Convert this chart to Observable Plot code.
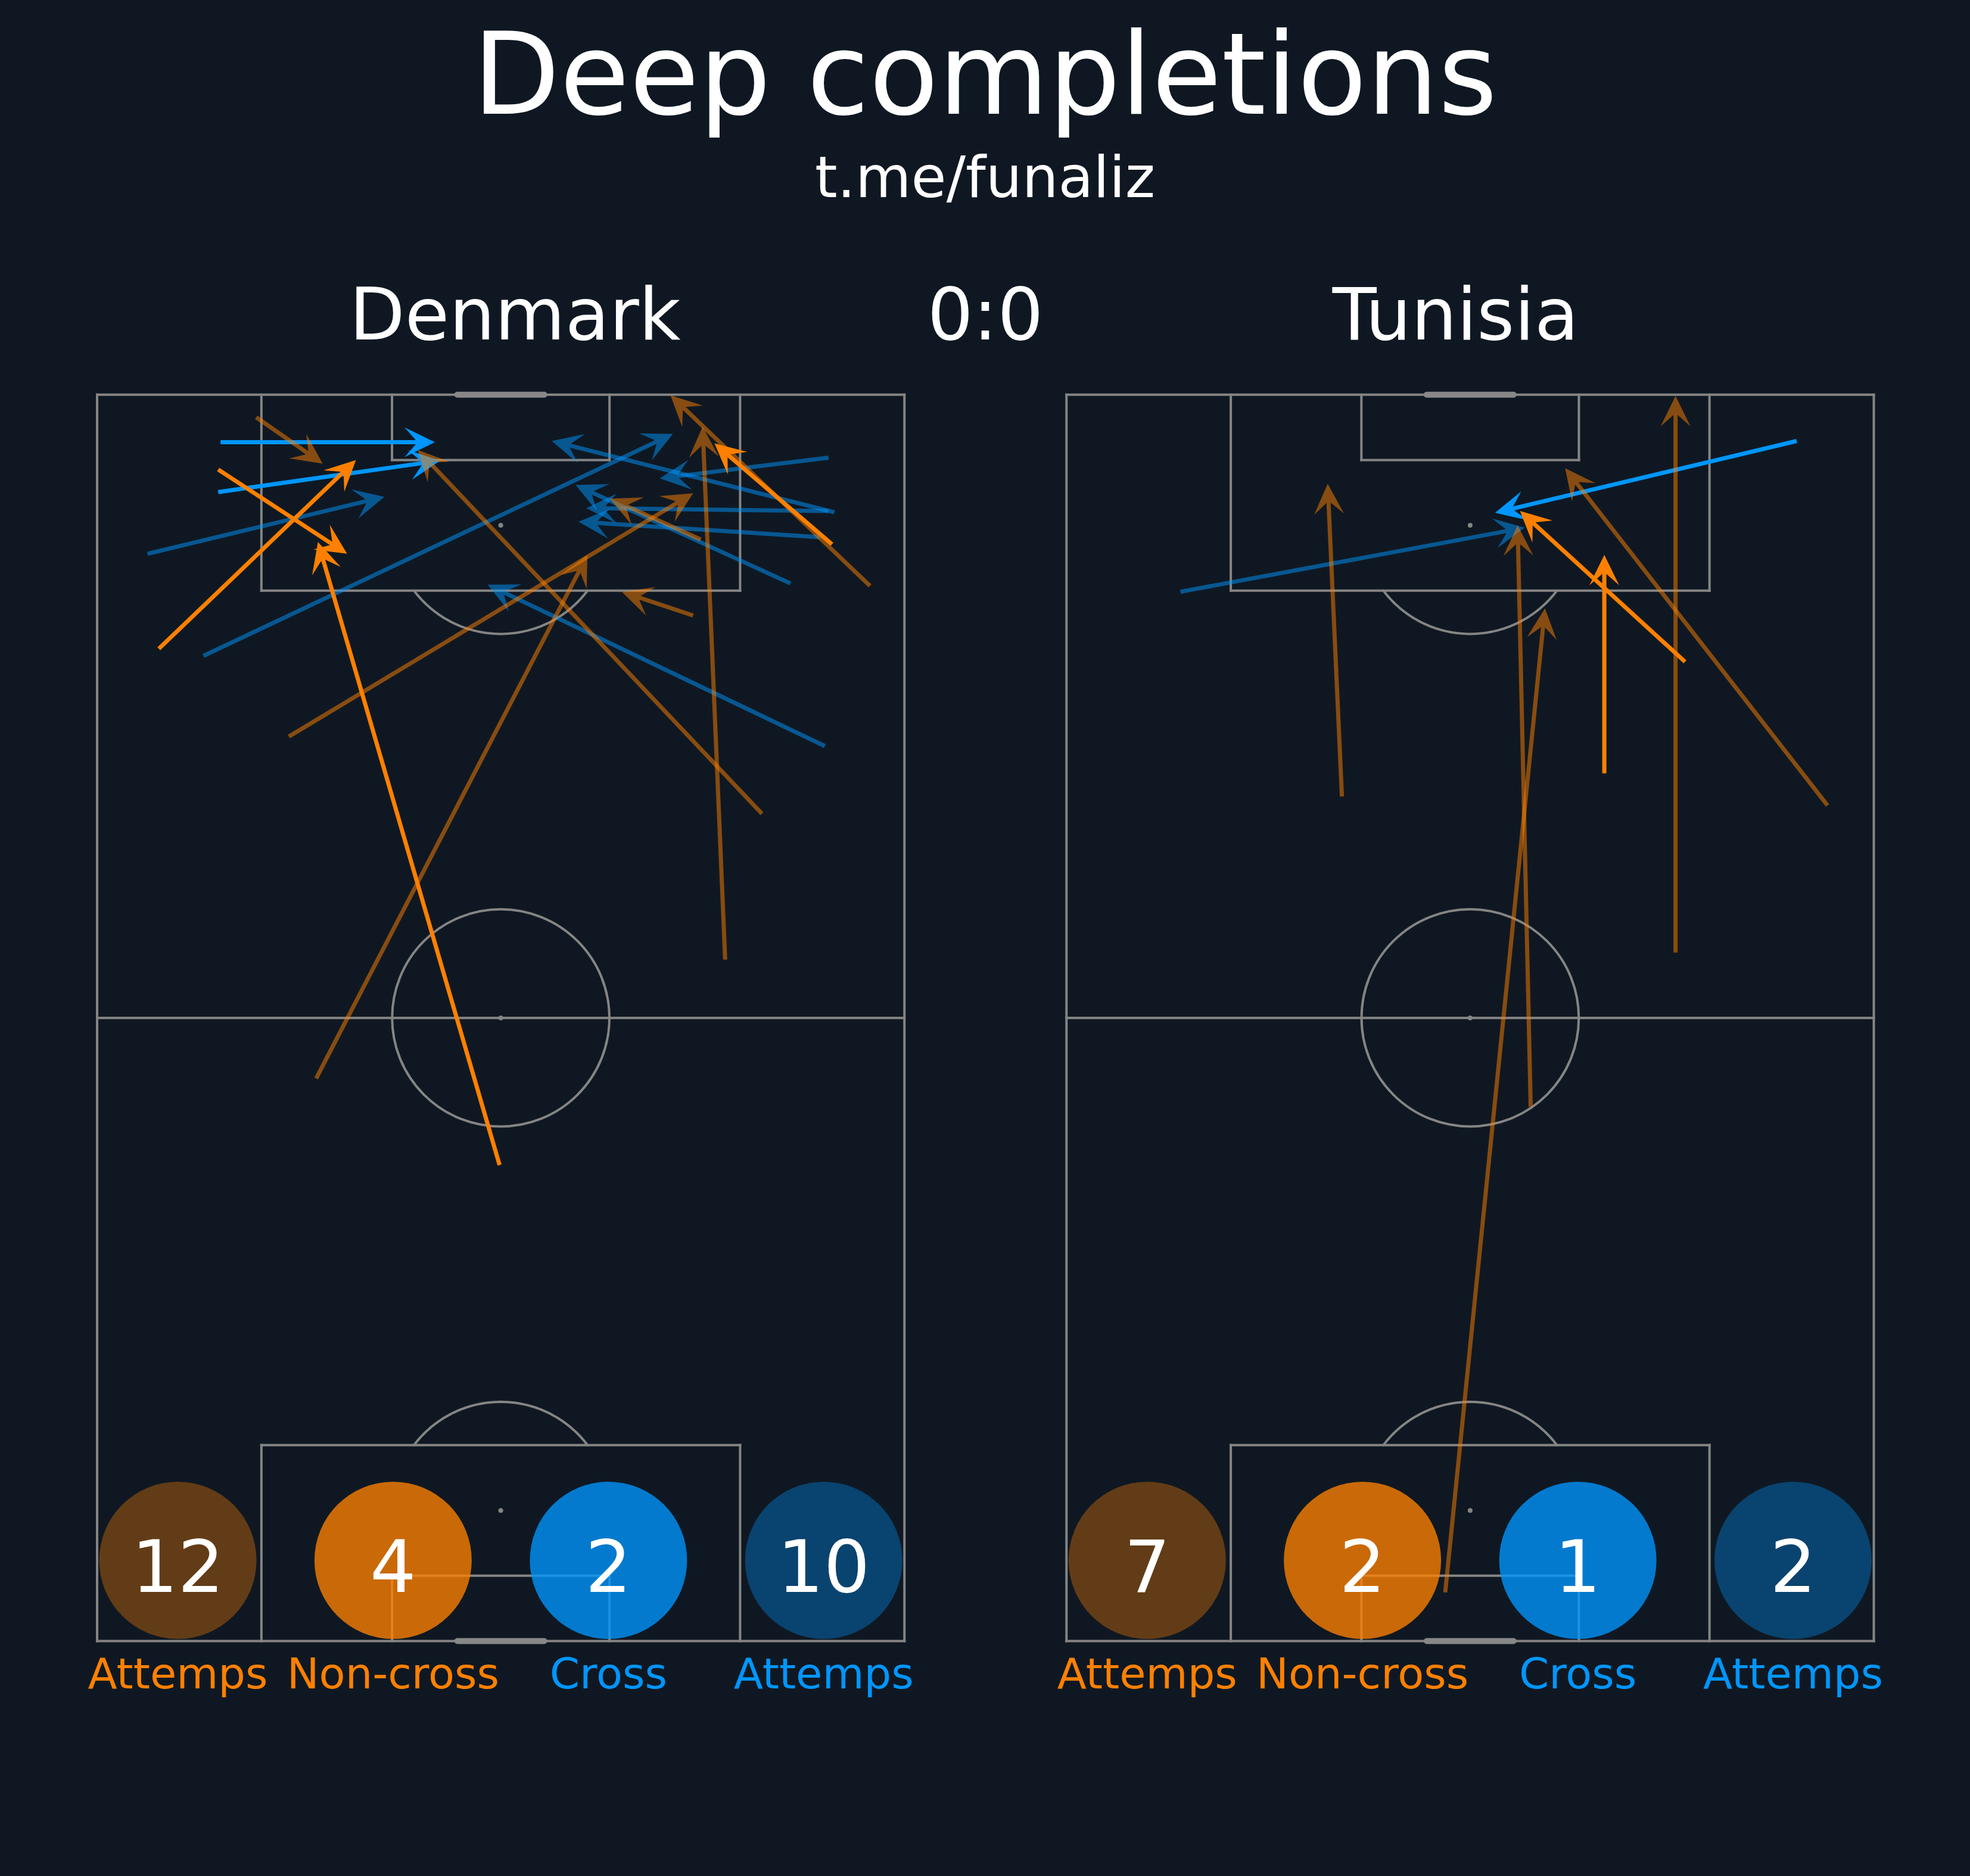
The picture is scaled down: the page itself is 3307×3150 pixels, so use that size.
<!DOCTYPE html>
<html>
<head>
<meta charset="utf-8">
<script src="https://cdn.jsdelivr.net/npm/d3@7"></script>
<script src="https://cdn.jsdelivr.net/npm/@observablehq/plot@0.6"></script>
<style>
  html, body { margin: 0; padding: 0; background: #0f1822; }
  #wrap { position: relative; width: 3307px; height: 3150px; background: #0f1822; overflow: hidden;
          font-family: "DejaVu Sans", sans-serif; color: #ffffff; }
  #title { position: absolute; left: 0; width: 3307px; top: 51px; text-align: center;
           font-size: 190px; line-height: 150px; }
  #subtitle { position: absolute; left: 0; width: 3307px; top: 260px; text-align: center;
              font-size: 96px; line-height: 76px; }
  #chart { position: absolute; left: 0; top: 400px; }
</style>
</head>
<body>
<div id="wrap">
  <div id="title">Deep completions</div>
  <div id="subtitle">t.me/funaliz</div>
  <div id="chart"></div>
</div>
<script>
// ---------------- DATA ----------------
const teams = ["Denmark", "Tunisia"];
const score = "0:0";
const statLabels = ["Attemps", "Non-cross", "Cross", "Attemps"];
const denmarkStats = [12, 4, 2, 10];
const tunisiaStats = [7, 2, 1, 2];

// arrows: [xStart, yStart, xEnd, yEnd] in metres (68 wide, 105 long, attacking upwards)
const denmarkNonCross = [
  [5.2, 83.6, 21.8, 99.5],
  [10.2, 98.7, 21.05, 91.6],
  [33.9, 40.1, 18.6, 92.6],
  [61.9, 92.4, 52.0, 100.9]
];
const denmarkCross = [
  [10.4, 101.0, 28.45, 101.0],
  [10.2, 96.8, 28.9, 99.45]
];
const denmarkNonCrossFailed = [
  [13.4, 103.1, 19.0, 99.2],
  [56.0, 69.7, 27.0, 100.35],
  [16.15, 76.2, 50.2, 96.7],
  [18.45, 47.4, 41.3, 91.5],
  [52.9, 57.4, 51.0, 102.3],
  [65.1, 88.9, 48.3, 104.95],
  [50.2, 86.4, 44.2, 88.4],
  [50.85, 92.8, 43.2, 96.25]
];
const denmarkCrossFailed = [
  [4.25, 91.6, 24.2, 96.4],
  [8.96, 83.0, 48.5, 101.7],
  [62.1, 95.1, 38.3, 101.1],
  [61.6, 99.7, 47.4, 97.95],
  [61.6, 95.2, 41.2, 95.45],
  [60.9, 93.0, 40.55, 94.3],
  [58.4, 89.1, 40.3, 97.4],
  [61.3, 75.4, 32.9, 89.0]
];
const tunisiaNonCross = [
  [52.1, 82.5, 38.2, 95.2],
  [45.3, 73.1, 45.3, 91.5]
];
const tunisiaCross = [
  [61.5, 101.1, 36.1, 95.05]
];
const tunisiaNonCrossFailed = [
  [23.2, 71.15, 22.0, 97.5],
  [31.9, 4.1, 40.3, 87.0],
  [39.1, 45.0, 38.0, 94.0],
  [51.3, 58.0, 51.3, 104.9],
  [64.1, 70.4, 42.0, 98.8]
];
const tunisiaCrossFailed = [
  [9.6, 88.4, 38.6, 93.8]
];

// ---------------- LAYOUT ----------------
const W = 3307, H = 2750;
const K = 19.93;                 // pixels per metre
const pitchLeftPx = 162.5, pitchTopPx = 262.3;
const L = 105, PW = 68;
const offsets = [0, 81.65];       // metres between pitch origins
const xDomain = [-pitchLeftPx / K, (W - pitchLeftPx) / K];
const yDomain = [L - (H - pitchTopPx) / K, L + pitchTopPx / K];

const ORANGE = "#ff8000", BLUE = "#0096ff", LINE = "#858585", BG = "#0f1822";

// pitch geometry
function pitchSegments(off) {
  const segs = [];
  const add = (x1, y1, x2, y2) => segs.push({x1: x1 + off, y1, x2: x2 + off, y2});
  add(0, 0, PW, 0); add(PW, 0, PW, L); add(PW, L, 0, L); add(0, L, 0, 0);
  add(0, L / 2, PW, L / 2);
  const bw = 40.32, bd = 16.5, sw = 18.32, sd = 5.5;
  for (const [g, s] of [[L, -1], [0, 1]]) {
    const b1 = (PW - bw) / 2, b2 = (PW + bw) / 2;
    add(b1, g, b1, g + s * bd); add(b1, g + s * bd, b2, g + s * bd); add(b2, g + s * bd, b2, g);
    const s1 = (PW - sw) / 2, s2 = (PW + sw) / 2;
    add(s1, g, s1, g + s * sd); add(s1, g + s * sd, s2, g + s * sd); add(s2, g + s * sd, s2, g);
  }
  return segs;
}
function arcPoints(off) {
  const pts = [];
  const phiMax = Math.acos(5.5 / 9.15);
  for (const [cy, dir, id] of [[L - 11, -1, "t"], [11, 1, "b"]]) {
    for (let i = 0; i <= 60; i++) {
      const phi = -phiMax + 2 * phiMax * i / 60;
      pts.push({x: off + PW / 2 + 9.15 * Math.sin(phi), y: cy + dir * 9.15 * Math.cos(phi), z: id + off});
    }
  }
  return pts;
}
const segments = offsets.flatMap(pitchSegments);
const arcs = offsets.flatMap(arcPoints);
const spots = offsets.flatMap(o => [[o + PW / 2, L / 2], [o + PW / 2, L - 11], [o + PW / 2, 11]]);
const centres = offsets.map(o => [o + PW / 2, L / 2]);
const goals = offsets.flatMap(o => [
  {x1: o + PW / 2 - 3.66, x2: o + PW / 2 + 3.66, y: L},
  {x1: o + PW / 2 - 3.66, x2: o + PW / 2 + 3.66, y: 0}
]);

// arrow drawing (one filled polygon: shaft + concave head)
const SHAFT = 7, HEAD_LEN = 51, HEAD_AXIS = 32, HEAD_HALF = 25;
const arrowShape = {
  draw(ctx, l) {
    const w = SHAFT / 2;
    ctx.moveTo(-w, 0);
    ctx.lineTo(-w, -l + HEAD_AXIS);
    ctx.lineTo(-HEAD_HALF, -l + HEAD_LEN);
    ctx.lineTo(0, -l);
    ctx.lineTo(HEAD_HALF, -l + HEAD_LEN);
    ctx.lineTo(w, -l + HEAD_AXIS);
    ctx.lineTo(w, 0);
    ctx.closePath();
  }
};
function arrowMark(rows, off, color, opacity) {
  return Plot.vector(rows, {
    x: d => d[0] + off,
    y: d => d[1],
    length: d => Math.hypot(d[2] - d[0], d[3] - d[1]) * K,
    rotate: d => Math.atan2(d[2] - d[0], d[3] - d[1]) * 180 / Math.PI,
    anchor: "start",
    shape: arrowShape,
    fill: color,
    fillOpacity: opacity,
    stroke: "none"
  });
}

// stat circles
const circleX = [6.8, 24.93, 43.07, 61.2];
const circleY = 6.8;
const statColors = [ORANGE, ORANGE, BLUE, BLUE];
const statRows = [denmarkStats, tunisiaStats].flatMap((vals, t) =>
  vals.map((v, i) => ({x: offsets[t] + circleX[i], y: circleY, value: v, label: statLabels[i],
                       color: statColors[i], attempt: i === 0 || i === 3})));

const xAt = frac => xDomain[0] + frac * (xDomain[1] - xDomain[0]);
const header = [
  {text: teams[0], x: xAt(0.2613)},
  {text: score, x: xAt(0.5)},
  {text: teams[1], x: xAt(0.7387)}
];
const headerY = yDomain[1] - 169 / K;
const labelY = -4.0;

const chart = Plot.plot({
  width: W, height: H,
  margin: 0,
  x: {domain: xDomain, axis: null},
  y: {domain: yDomain, axis: null},
  length: {type: "identity"},
  style: {background: BG, fontFamily: "DejaVu Sans", overflow: "visible"},
  marks: [
    Plot.link(segments, {x1: "x1", y1: "y1", x2: "x2", y2: "y2", stroke: LINE, strokeWidth: 4, strokeLinecap: "square"}),
    Plot.line(arcs, {x: "x", y: "y", z: "z", stroke: LINE, strokeWidth: 4}),
    Plot.dot(centres, {x: d => d[0], y: d => d[1], r: 9.15 * K, stroke: LINE, strokeWidth: 4, fill: "none"}),
    Plot.dot(spots, {x: d => d[0], y: d => d[1], r: 4, fill: LINE, stroke: "none"}),
    Plot.link(goals, {x1: "x1", x2: "x2", y1: "y", y2: "y", stroke: "#888888", strokeWidth: 10, strokeLinecap: "round"}),

    arrowMark(denmarkCrossFailed, offsets[0], BLUE, 0.5),
    arrowMark(tunisiaCrossFailed, offsets[1], BLUE, 0.5),
    arrowMark(denmarkCross, offsets[0], BLUE, 1),
    arrowMark(tunisiaCross, offsets[1], BLUE, 1),
    arrowMark(denmarkNonCrossFailed, offsets[0], ORANGE, 0.5),
    arrowMark(tunisiaNonCrossFailed, offsets[1], ORANGE, 0.5),
    arrowMark(denmarkNonCross, offsets[0], ORANGE, 1),
    arrowMark(tunisiaNonCross, offsets[1], ORANGE, 1),

    Plot.dot(statRows.filter(d => d.attempt), {x: "x", y: "y", r: 132, fill: "color", fillOpacity: 0.35, stroke: "none"}),
    Plot.dot(statRows.filter(d => !d.attempt), {x: "x", y: "y", r: 132, fill: "color", fillOpacity: 0.78, stroke: "none"}),
    Plot.text(statRows, {x: "x", y: "y", text: d => String(d.value), fill: "#ffffff", fontSize: 122,
                         lineAnchor: "bottom", dy: 53}),
    Plot.text(statRows, {x: "x", y: labelY, text: "label", fill: "color", fontSize: 72, lineAnchor: "bottom"}),
    Plot.text(header, {x: "x", y: headerY, text: "text", fill: "#ffffff", fontSize: 121, lineAnchor: "bottom"})
  ]
});
document.getElementById("chart").appendChild(chart);
</script>
</body>
</html>
